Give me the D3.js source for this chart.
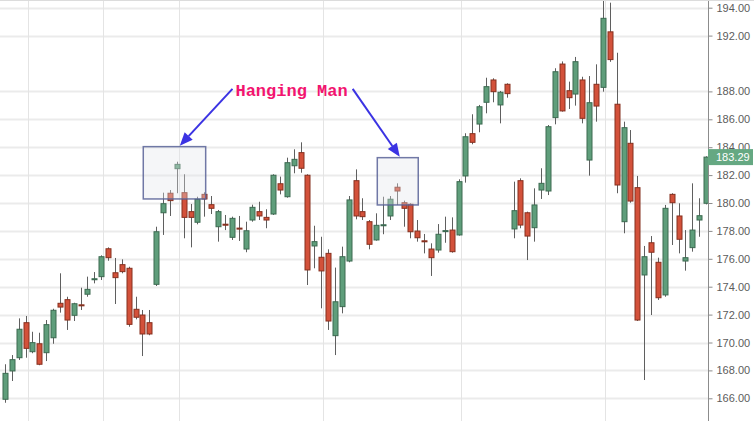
<!DOCTYPE html>
<html>
<head>
<meta charset="utf-8">
<script src="https://cdn.jsdelivr.net/npm/d3@7"></script>
<style>
  html, body { margin: 0; padding: 0; background: #ffffff; }
  svg { display: block; }
</style>
</head>
<body>
<script>
// Daily OHLC prices, one entry per session
const opens = [
  165.93, 167.96, 168.91, 171.42, 169.34, 169.91, 169.27, 170.34, 172.81, 173.07,
  171.95, 172.70, 173.46, 174.55, 174.72, 176.72, 175.00, 175.58, 175.32, 172.38,
  171.97, 171.42, 174.17, 179.30, 180.70, 182.46, 180.74, 179.38, 178.62, 180.62,
  179.88, 178.30, 178.48, 177.54, 178.20, 176.70, 178.78, 179.38, 178.97, 179.21,
  181.38, 180.45, 182.67, 183.61, 181.99, 176.92, 176.11, 176.39, 170.49, 172.57,
  175.84, 181.60, 179.38, 178.66, 177.35, 178.42, 179.07, 181.13, 180.02, 179.91,
  177.99, 177.29, 176.70, 176.63, 178.00, 178.06, 177.71, 181.94, 184.97, 185.66,
  187.22, 188.82, 187.03, 188.51, 178.14, 181.60, 179.30, 178.23, 180.93, 180.86,
  186.12, 189.96, 188.05, 187.81, 188.82, 183.08, 188.51, 188.29, 192.27, 187.08,
  178.66, 184.28, 181.10, 174.84, 177.15, 175.75, 173.41, 180.62, 179.07, 175.84,
  176.80, 178.78, 179.98
];
const highs = [
  168.44, 169.10, 171.73, 171.90, 170.77, 170.70, 171.61, 172.42, 174.96, 173.28,
  172.85, 173.93, 174.72, 175.05, 176.25, 176.82, 176.06, 175.96, 175.43, 173.28,
  172.33, 172.33, 178.30, 180.74, 180.93, 182.96, 182.06, 179.93, 180.45, 180.77,
  180.50, 179.50, 179.14, 179.02, 179.07, 178.66, 179.88, 180.09, 179.55, 182.06,
  181.89, 183.25, 183.85, 184.35, 182.06, 178.37, 177.58, 176.68, 175.37, 176.87,
  180.50, 182.41, 180.34, 178.78, 179.26, 180.45, 180.50, 181.41, 180.17, 179.98,
  178.78, 177.78, 177.11, 178.49, 179.02, 178.97, 181.70, 185.00, 186.36, 187.03,
  188.98, 188.94, 188.03, 188.58, 181.53, 181.77, 179.38, 181.05, 182.49, 185.59,
  189.66, 190.15, 188.70, 190.47, 189.05, 189.10, 189.94, 194.80, 194.36, 190.77,
  185.83, 185.23, 181.94, 176.92, 177.63, 176.08, 179.86, 180.70, 179.98, 178.06,
  181.41, 180.34, 183.35
];
const lows = [
  165.68, 167.24, 168.75, 168.91, 169.23, 168.37, 168.67, 169.91, 172.14, 170.90,
  171.54, 172.33, 173.28, 174.24, 174.48, 175.86, 172.76, 174.96, 171.13, 171.66,
  169.03, 170.52, 174.05, 177.71, 179.07, 180.70, 177.47, 176.82, 178.47, 179.02,
  179.21, 177.23, 178.06, 177.35, 177.28, 176.47, 178.66, 178.78, 178.19, 179.14,
  180.62, 180.38, 182.13, 182.17, 174.12, 175.32, 172.45, 170.90, 169.10, 172.09,
  175.75, 178.83, 178.78, 176.68, 177.30, 177.76, 178.78, 179.86, 178.30, 177.47,
  177.23, 176.39, 174.77, 176.44, 177.15, 176.44, 177.66, 181.46, 184.21, 185.07,
  186.43, 187.22, 185.71, 187.55, 177.47, 178.19, 175.91, 177.23, 180.29, 180.57,
  185.64, 186.55, 186.74, 186.98, 185.71, 181.96, 185.83, 187.98, 190.12, 180.70,
  177.83, 180.02, 171.54, 167.31, 171.97, 173.05, 173.28, 176.99, 176.39, 175.15,
  176.51, 177.58, 179.90
];
const closes = [
  167.79, 168.77, 170.95, 169.58, 169.99, 168.44, 171.28, 172.31, 172.54, 171.61,
  172.78, 172.66, 173.81, 174.57, 176.15, 176.08, 174.65, 175.08, 171.30, 171.81,
  170.61, 170.61, 177.94, 179.95, 180.17, 182.77, 178.97, 178.97, 180.27, 180.29,
  179.62, 179.38, 178.46, 178.90, 178.17, 178.01, 179.69, 179.07, 178.78, 181.99,
  180.93, 182.89, 183.13, 182.49, 175.20, 177.23, 175.13, 171.54, 172.92, 176.15,
  180.22, 179.07, 179.02, 177.04, 178.40, 178.44, 180.27, 180.86, 179.62, 177.94,
  177.51, 177.26, 176.08, 177.76, 178.02, 176.51, 181.53, 184.75, 184.35, 186.90,
  188.34, 187.98, 187.94, 187.84, 179.45, 178.42, 177.63, 179.86, 181.41, 185.47,
  189.41, 186.60, 187.55, 190.13, 186.07, 187.19, 186.95, 193.24, 190.28, 181.29,
  185.40, 180.14, 171.61, 176.15, 176.47, 173.21, 179.62, 180.02, 177.40, 176.08,
  178.06, 179.09, 183.29
];

// Price axis ticks (the 190 level carries no label)
const priceTicks = [166, 168, 170, 172, 174, 176, 178, 180, 182, 184, 186, 188, 192, 194];
// Sessions at which a new period begins (vertical grid)
const periodStarts = [3, 14, 25, 46, 66, 87];

// Hanging Man candles and the price/session window framed around each
const patternLabel = "Hanging Man";
const patternAt   = [25, 57];
const patternFrom = [20.12, 54.17];
const patternTo   = [29.2, 60.13];
const patternHi   = [184.04, 183.25];
const patternLo   = [180.29, 179.86];
// Where the caption sits (session index, price of its baseline)
const captionAt = [41.7, 187.65];

const lastPrice = closes[closes.length - 1];

const W = 754, H = 421;
const axisX = 708;

const candles = opens.map((o, i) => ({ i, o, h: highs[i], l: lows[i], c: closes[i] }));

const x = d3.scaleLinear().domain([0, candles.length - 1]).range([5, 706]);
const y = d3.scaleLinear().domain([166, 194]).range([398.3, 7.7]);
const step = x(1) - x(0);

const svg = d3.select("body").append("svg")
  .attr("width", W).attr("height", H)
  .style("font-family", "'Liberation Sans', Arial, sans-serif");

svg.append("rect").attr("width", W).attr("height", H).attr("fill", "#ffffff");

svg.append("defs").append("clipPath").attr("id", "plot")
  .append("rect").attr("x", 0).attr("y", 0).attr("width", axisX).attr("height", H);

const plot = svg.append("g").attr("clip-path", "url(#plot)");

// Grid
plot.append("g").selectAll("line.h").data(priceTicks).join("line")
  .attr("x1", 0).attr("x2", axisX)
  .attr("y1", d => Math.round(y(d)) + 0.5).attr("y2", d => Math.round(y(d)) + 0.5)
  .attr("stroke", "#ebebeb").attr("stroke-width", 2);

plot.append("g").selectAll("line.v").data(periodStarts).join("line")
  .attr("x1", d => Math.round(x(d + 0.3)) + 0.5).attr("x2", d => Math.round(x(d + 0.3)) + 0.5)
  .attr("y1", 0).attr("y2", H)
  .attr("stroke", "#e4e4e4").attr("stroke-width", 1);

// Candles
const up = d => d.c >= d.o;
const bodyW = 5;
const cg = plot.append("g").selectAll("g").data(candles).join("g");

cg.append("line")
  .attr("x1", d => Math.round(x(d.i)) + 0.5).attr("x2", d => Math.round(x(d.i)) + 0.5)
  .attr("y1", d => y(d.h)).attr("y2", d => y(d.l))
  .attr("stroke", "#5f5f5f").attr("stroke-width", 1);

cg.append("rect")
  .attr("x", d => Math.round(x(d.i)) - 2 + 0.5 - 0.5)
  .attr("width", bodyW)
  .attr("y", d => y(Math.max(d.o, d.c)))
  .attr("height", d => Math.max(1, Math.abs(y(d.o) - y(d.c))))
  .attr("fill", d => up(d) ? "#5f9e7b" : "#d3513a")
  .attr("stroke", d => up(d) ? "#3c6a51" : "#86301f")
  .attr("stroke-width", 1);

// Pattern frames
const ann = svg.append("g");
patternAt.forEach((p, k) => {
  ann.append("rect")
    .attr("x", x(patternFrom[k])).attr("y", y(patternHi[k]))
    .attr("width", x(patternTo[k]) - x(patternFrom[k]))
    .attr("height", y(patternLo[k]) - y(patternHi[k]))
    .attr("fill", "rgba(226,228,236,0.35)")
    .attr("stroke", "rgba(88,98,150,0.85)")
    .attr("stroke-width", 1.5);
});

// Caption
const caption = ann.append("text")
  .attr("x", x(captionAt[0])).attr("y", y(captionAt[1]))
  .attr("text-anchor", "middle")
  .attr("font-family", "'Liberation Mono', 'DejaVu Sans Mono', monospace")
  .attr("font-weight", "bold").attr("font-size", 17)
  .attr("fill", "#f2146f")
  .text(patternLabel);

const bb = caption.node().getBBox();
const tails = [[bb.x - 3, bb.y + bb.height * 0.35], [bb.x + bb.width + 5, bb.y + bb.height * 0.35]];
const arrowColor = "#3b33e3";
patternAt.forEach((p, k) => {
  const tx = x(p) + 3, ty = y(patternHi[k]) - 1;
  const [sx, sy] = tails[k];
  const ang = Math.atan2(ty - sy, tx - sx);
  const len = 13, half = 5.5;
  const bx = tx - len * Math.cos(ang), by = ty - len * Math.sin(ang);
  ann.append("line")
    .attr("x1", sx).attr("y1", sy).attr("x2", bx).attr("y2", by)
    .attr("stroke", arrowColor).attr("stroke-width", 2);
  const px = -Math.sin(ang), py = Math.cos(ang);
  ann.append("path")
    .attr("d", `M${tx},${ty}L${bx + px * half},${by + py * half}L${bx - px * half},${by - py * half}Z`)
    .attr("fill", arrowColor);
});

// Price axis
const axis = svg.append("g")
  .attr("transform", `translate(${axisX + 0.5},0)`)
  .call(d3.axisRight(y).tickValues(priceTicks).tickFormat(d3.format(".2f")).tickSize(4).tickPadding(4).tickSizeOuter(0));
axis.select(".domain").attr("stroke", "#8c8c8c").attr("d", `M0,0V${H}`);
axis.selectAll(".tick line").attr("stroke", "#8c8c8c");
axis.selectAll(".tick text").attr("fill", "#5c5c5c").attr("font-size", 11)
  .attr("font-family", "'Liberation Sans', Arial, sans-serif");

// Last price marker
const lp = svg.append("g").attr("transform", `translate(${axisX},${y(lastPrice)})`);
lp.append("rect").attr("x", 0).attr("y", -8).attr("width", W - axisX - 1).attr("height", 16)
  .attr("fill", "#65a882");
lp.append("text").attr("x", 8).attr("y", 4).attr("fill", "#ffffff")
  .attr("font-size", 11).attr("font-family", "'Liberation Sans', Arial, sans-serif")
  .text(d3.format(".2f")(lastPrice));

// Frame edge
svg.append("line").attr("x1", 0).attr("x2", W).attr("y1", 0.5).attr("y2", 0.5)
  .attr("stroke", "#dcdcdc");
</script>
</body>
</html>
